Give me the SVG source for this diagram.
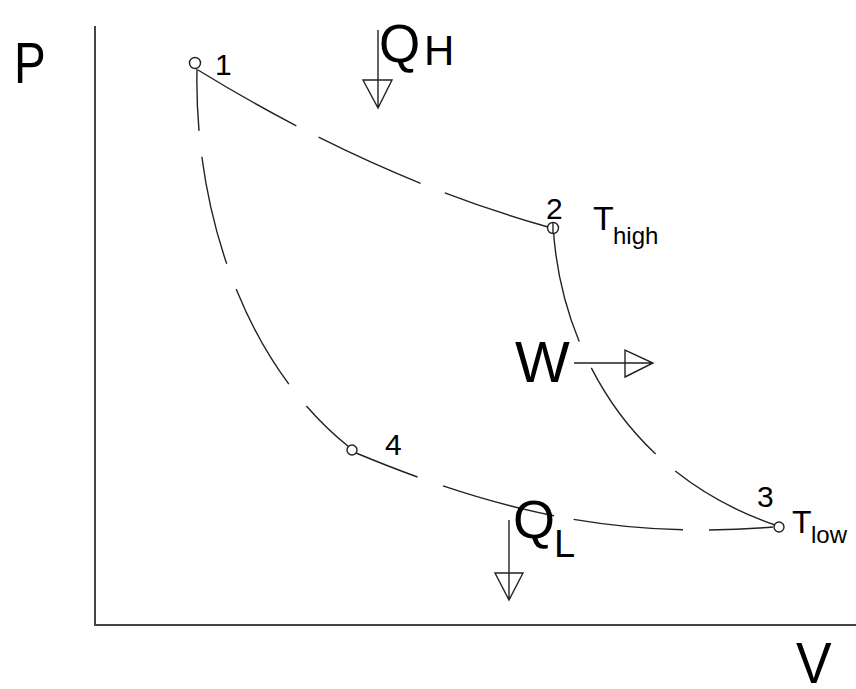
<svg xmlns="http://www.w3.org/2000/svg" width="856" height="689" viewBox="0 0 856 689">
<style>
.ax{stroke:#444;stroke-width:2;fill:none}
.cv{stroke:#222;stroke-width:1.4;fill:none}
.ar{stroke:#222;stroke-width:1.4;fill:none}
.pt{stroke:#222;stroke-width:1.4;fill:#fff}
text{font-family:"Liberation Sans",Arial,sans-serif;fill:#000}
.big{font-size:58px}
.num{font-size:30px}
</style>
<rect width="856" height="689" fill="#fff"/>
<g id="axes">
<path class="ax" d="M95,26 V625 H856"/>
<text class="big" transform="translate(14,83) scale(0.82,1)">P</text>
<text class="big" font-size="57" transform="translate(796,683) scale(0.92,1)">V</text>
</g>
<g id="connectors">
<path class="cv" d="M198,70 Q374,178 548,227" stroke-dasharray="113 25 112 26 200"/>
<path class="cv" d="M197,69 C194,200 238,358 349,447" stroke-dasharray="62 26 110 27 109 28 100"/>
<path class="cv" d="M356,453 C505,515 624,539 773,527" stroke-dasharray="66 27 115 20 110 26 100"/>
<path class="cv" d="M553,223 C558,330 615,470 775,525" stroke-dasharray="122 29 108 26 160"/>
</g>
<g id="p1"><circle class="pt" cx="195" cy="63" r="5.5"/><text class="num" x="215" y="75">1</text></g>
<g id="p2"><circle class="pt" cx="553" cy="228" r="5.5"/><line class="cv" x1="553" y1="222" x2="553" y2="234"/><text class="num" x="546" y="219">2</text>
<text x="593" y="230" font-size="34">T<tspan x="613" y="244" font-size="24">high</tspan></text></g>
<g id="p3"><circle class="pt" cx="779" cy="527" r="5"/><text class="num" x="757" y="507">3</text>
<text x="792" y="533" font-size="32">T<tspan x="811" y="543" font-size="24">low</tspan></text></g>
<g id="p4"><circle class="pt" cx="352" cy="450" r="5"/><text class="num" x="385" y="455">4</text></g>
<g id="qh">
<path class="ar" d="M378,30 V108 M363,80 H392 L378,108 Z"/>
<text x="379" y="62" font-size="53">Q<tspan x="424" y="65" font-size="42">H</tspan></text>
</g>
<g id="w">
<path class="ar" d="M574,363 H653 M625,350 V377 L653,363 Z"/>
<text x="515" y="382" font-size="58">W</text>
</g>
<g id="ql">
<path class="ar" d="M509,520 V600 M495,573 H523 L509,600 Z"/>
<text x="513" y="538" font-size="54">Q<tspan x="554" y="557" font-size="38">L</tspan></text>
</g>
</svg>
